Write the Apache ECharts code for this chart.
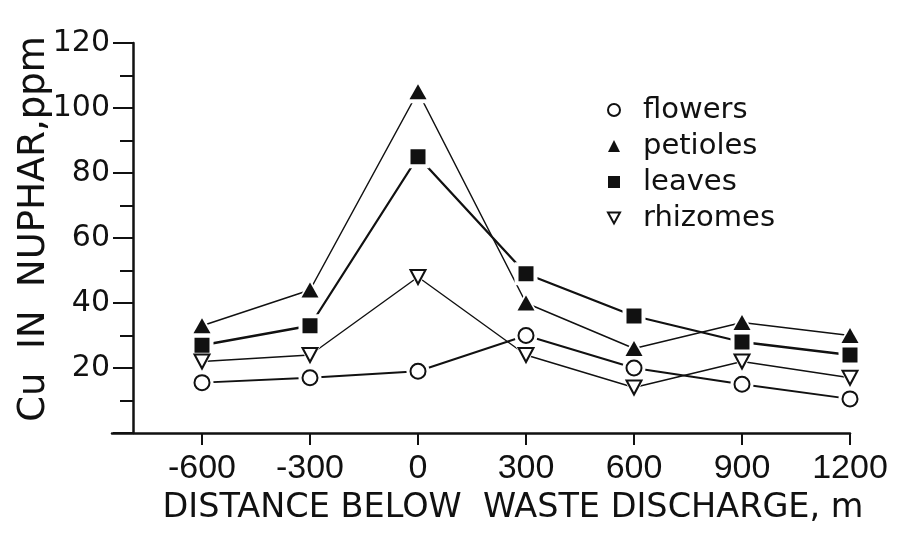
<!DOCTYPE html>
<html>
<head>
<meta charset="utf-8">
<style>
  html, body { margin: 0; padding: 0; background: #fff; }
  #chart { width: 898px; height: 533px; }
</style>
<script src="https://cdn.jsdelivr.net/npm/echarts@6/dist/echarts.min.js"></script>
</head>
<body>
<div id="chart"></div>
<script>
// Copper content of Nuphar tissues along the stream, by distance from the outfall
const distances = [-600, -300, 0, 300, 600, 900, 1200];
const xTicks = [-600, -300, 0, 300, 600, 900, 1200];
const flowers  = [15.5, 17, 19, 30, 20, 15, 10.5];
const petioles = [33, 44, 105, 40, 26, 34, 30];
const leaves   = [27, 33, 85, 49, 36, 28, 24];
const rhizomes = [22, 24, 48, 24, 14, 22, 17];

const INK = '#111';
const FONT = 'DejaVu Sans';
const DOWN_TRIANGLE = 'path://M0,0L20,0L10,18Z';

const pairs = vals => distances.map((d, i) => [d, vals[i]]);

// per-series drawing style
const tissues = [
  { name: 'flowers',  vals: flowers,  symbol: 'circle',      size: 15,       fill: '#fff', lw: 1.9 },
  { name: 'petioles', vals: petioles, symbol: 'triangle',    size: [17, 15], fill: INK,    lw: 1.5 },
  { name: 'leaves',   vals: leaves,   symbol: 'rect',        size: 15,       fill: INK,    lw: 2.3 },
  { name: 'rhizomes', vals: rhizomes, symbol: DOWN_TRIANGLE, size: [15, 14], fill: '#fff', lw: 1.4 }
];

const grow = (s, k) => Array.isArray(s) ? [s[0] + k, s[1] + k] : s + k;

const series = [];
tissues.forEach(t => {
  // connecting line
  series.push({
    type: 'line', name: t.name + '-line', data: pairs(t.vals),
    showSymbol: false, symbol: 'none', z: 2, silent: true,
    lineStyle: { color: INK, width: t.lw }
  });
  // white halo so the lines stop short of each marker
  series.push({
    type: 'scatter', name: t.name + '-halo', data: pairs(t.vals),
    symbol: t.symbol, symbolSize: grow(t.size, 8),
    z: 3, silent: true,
    itemStyle: { color: '#fff', opacity: 1 }
  });
  // marker
  series.push({
    type: 'scatter', name: t.name, data: pairs(t.vals),
    symbol: t.symbol, symbolSize: t.size, z: 4,
    itemStyle: { color: t.fill, borderColor: INK, borderWidth: t.fill === '#fff' ? 2 : 0, opacity: 1 }
  });
});

const chart = echarts.init(document.getElementById('chart'), null, { renderer: 'canvas' });
chart.setOption({
  backgroundColor: '#fff',
  animation: false,
  grid: { left: 112, top: 43, width: 738, height: 390, containLabel: false, outerBoundsMode: 'none' },
  legend: {
    data: tissues.map(t => t.name),
    orient: 'vertical', left: 602, top: 90,
    itemWidth: 12, itemHeight: 12, itemGap: 6,
    selectedMode: false,
    textStyle: { fontFamily: FONT, fontSize: 29, color: INK, lineHeight: 30, padding: [0, 0, 0, 18] }
  },
  xAxis: {
    type: 'value', min: -850, max: 1200,
    name: 'DISTANCE BELOW  WASTE DISCHARGE, m',
    nameLocation: 'middle', nameGap: 57,
    nameTextStyle: { fontFamily: FONT, fontSize: 33.5, color: INK, padding: [0, 0, 0, 64] },
    axisLine: { show: true, onZero: false, lineStyle: { color: INK, width: 2.5 } },
    axisTick: { show: true, customValues: xTicks, length: 12, lineStyle: { color: INK, width: 2 } },
    axisLabel: {
      customValues: xTicks, margin: 19, fontFamily: 'Liberation Sans', fontSize: 34, color: INK,
      formatter: v => String(v)
    },
    splitLine: { show: false }
  },
  yAxis: {
    type: 'value', min: 0, max: 120, interval: 20, offset: -21,
    name: 'Cu  IN  NUPHAR,ppm',
    nameLocation: 'middle', nameRotate: 90, nameGap: 80, nameMoveOverlap: false,
    nameTextStyle: { fontFamily: FONT, fontSize: 37, color: INK, padding: [0, 0, 0, 18] },
    axisLine: { show: true, onZero: false, lineStyle: { color: INK, width: 2.5 } },
    axisTick: { show: true, length: 20, lineStyle: { color: INK, width: 2 } },
    minorTick: { show: true, splitNumber: 2, length: 13, lineStyle: { color: INK, width: 2 } },
    axisLabel: {
      margin: 23, fontFamily: FONT, fontSize: 30, color: INK,
      formatter: v => (v === 0 ? '' : String(v))
    },
    splitLine: { show: false }
  },
  series: series
});
</script>
</body>
</html>
